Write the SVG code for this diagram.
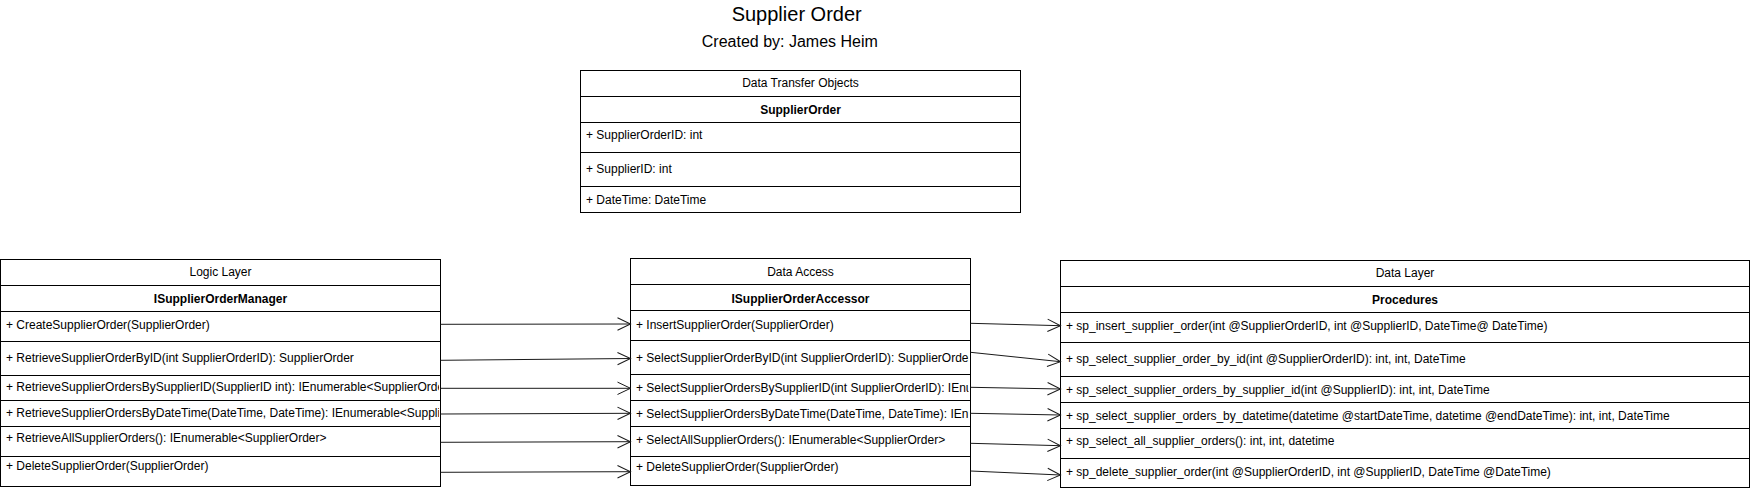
<svg xmlns="http://www.w3.org/2000/svg" width="1751" height="491" viewBox="0 0 1751 491">
<style>
  text { font-family: "Liberation Sans", Arial, Helvetica, sans-serif; fill: #000; }
  .title { font-size: 20px; text-anchor: middle; }
  .sub { font-size: 16px; text-anchor: middle; }
  .hdr { font-size: 12px; text-anchor: middle; }
  .bold { font-size: 12px; font-weight: bold; text-anchor: middle; }
  .row { font-size: 12px; }
  .box { fill: #fff; stroke: #000; stroke-width: 1; }
  .sep { stroke: #000; stroke-width: 1; fill: none; }
  .conn { stroke: #1a1a1a; stroke-width: 1; fill: none; marker-end: url(#open); }
</style>
<defs>
  <marker id="open" markerUnits="userSpaceOnUse" markerWidth="16" markerHeight="16" viewBox="0 0 16 16" refX="14.5" refY="8" orient="auto">
    <path d="M1.5,1.8 L14.5,8 L1.5,14.2" fill="none" stroke="#1a1a1a" stroke-width="1"/>
  </marker>
  <clipPath id="clipLogic"><rect x="0" y="255" width="439" height="236"/></clipPath>
  <clipPath id="clipAccess"><rect x="631" y="255" width="337.5" height="236"/></clipPath>
  <clipPath id="clipLayer"><rect x="1061" y="255" width="686" height="236"/></clipPath>
</defs>
<rect width="1751" height="491" fill="#fff"/>

<g id="title">
  <text class="title" x="796.7" y="21">Supplier Order</text>
  <text class="sub" x="789.8" y="47.3">Created by: James Heim</text>
</g>

<g id="dto">
  <rect class="box" x="580.5" y="70.5" width="440" height="142"/>
  <path class="sep" d="M580.5,96.5H1020.5M580.5,122.5H1020.5M580.5,152.5H1020.5M580.5,186.5H1020.5"/>
  <text class="hdr" x="800.5" y="87.3">Data Transfer Objects</text>
  <text class="bold" x="800.5" y="114">SupplierOrder</text>
  <text class="row" x="586" y="139.3">+ SupplierOrderID: int</text>
  <text class="row" x="586" y="173.3">+ SupplierID: int</text>
  <text class="row" x="586" y="204">+ DateTime: DateTime</text>
</g>

<g id="logic-layer">
  <rect class="box" x="0.5" y="259.5" width="440" height="227"/>
  <path class="sep" d="M0.5,285.5H440.5M0.5,311.5H440.5M0.5,341.5H440.5M0.5,375.5H440.5M0.5,400.5H440.5M0.5,426.5H440.5M0.5,456.5H440.5"/>
  <text class="hdr" x="220.5" y="275.7">Logic Layer</text>
  <text class="bold" x="220.5" y="303.3">ISupplierOrderManager</text>
  <g clip-path="url(#clipLogic)">
    <text class="row" x="6" y="329">+ CreateSupplierOrder(SupplierOrder)</text>
    <text class="row" x="6" y="361.7">+ RetrieveSupplierOrderByID(int SupplierOrderID): SupplierOrder</text>
    <text class="row" x="6" y="391">+ RetrieveSupplierOrdersBySupplierID(SupplierID int): IEnumerable&lt;SupplierOrder&gt;</text>
    <text class="row" x="6" y="417">+ RetrieveSupplierOrdersByDateTime(DateTime, DateTime): IEnumerable&lt;SupplierOrder&gt;</text>
    <text class="row" x="6" y="442.3">+ RetrieveAllSupplierOrders(): IEnumerable&lt;SupplierOrder&gt;</text>
    <text class="row" x="6" y="470">+ DeleteSupplierOrder(SupplierOrder)</text>
  </g>
</g>

<g id="data-access">
  <rect class="box" x="630.5" y="258.5" width="340" height="227"/>
  <path class="sep" d="M630.5,284.5H970.5M630.5,310.5H970.5M630.5,340.5H970.5M630.5,374.5H970.5M630.5,400.5H970.5M630.5,426.5H970.5M630.5,456.5H970.5"/>
  <text class="hdr" x="800.5" y="275.7">Data Access</text>
  <text class="bold" x="800.5" y="303.3">ISupplierOrderAccessor</text>
  <g clip-path="url(#clipAccess)">
    <text class="row" x="636" y="329">+ InsertSupplierOrder(SupplierOrder)</text>
    <text class="row" x="636" y="362.3">+ SelectSupplierOrderByID(int SupplierOrderID): SupplierOrder</text>
    <text class="row" x="636" y="391.7">+ SelectSupplierOrdersBySupplierID(int SupplierOrderID): IEnumerable&lt;SupplierOrder&gt;</text>
    <text class="row" x="636" y="417.7">+ SelectSupplierOrdersByDateTime(DateTime, DateTime): IEnumerable&lt;SupplierOrder&gt;</text>
    <text class="row" x="636" y="443.7">+ SelectAllSupplierOrders(): IEnumerable&lt;SupplierOrder&gt;</text>
    <text class="row" x="636" y="471">+ DeleteSupplierOrder(SupplierOrder)</text>
  </g>
</g>

<g id="data-layer">
  <rect class="box" x="1060.5" y="260.5" width="689" height="227"/>
  <path class="sep" d="M1060.5,286.5H1749.5M1060.5,312.5H1749.5M1060.5,342.5H1749.5M1060.5,376.5H1749.5M1060.5,402.5H1749.5M1060.5,428.5H1749.5M1060.5,458.5H1749.5"/>
  <text class="hdr" x="1405" y="276.7">Data Layer</text>
  <text class="bold" x="1405" y="304.3">Procedures</text>
  <g clip-path="url(#clipLayer)">
    <text class="row" x="1066" y="330">+ sp_insert_supplier_order(int @SupplierOrderID, int @SupplierID, DateTime@ DateTime)</text>
    <text class="row" x="1066" y="363.3">+ sp_select_supplier_order_by_id(int @SupplierOrderID): int, int, DateTime</text>
    <text class="row" x="1066" y="394">+ sp_select_supplier_orders_by_supplier_id(int @SupplierID): int, int, DateTime</text>
    <text class="row" x="1066" y="420">+ sp_select_supplier_orders_by_datetime(datetime @startDateTime, datetime @endDateTime): int, int, DateTime</text>
    <text class="row" x="1066" y="445">+ sp_select_all_supplier_orders(): int, int, datetime</text>
    <text class="row" x="1066" y="475.7">+ sp_delete_supplier_order(int @SupplierOrderID, int @SupplierID, DateTime @DateTime)</text>
  </g>
</g>

<g id="connectors">
  <path class="conn" d="M440.5,324.3L630.5,324"/>
  <path class="conn" d="M440.5,360.3L630.5,358.5"/>
  <path class="conn" d="M440.5,388.3L630.5,388.3"/>
  <path class="conn" d="M440.5,414L630.5,413.3"/>
  <path class="conn" d="M440.5,442.3L630.5,441.7"/>
  <path class="conn" d="M440.5,472.3L630.5,471.7"/>
  <path class="conn" d="M970.5,323.3L1060.5,325.7"/>
  <path class="conn" d="M970.5,352.3L1060.5,361.7"/>
  <path class="conn" d="M970.5,387.3L1060.5,389"/>
  <path class="conn" d="M970.5,413.3L1060.5,415"/>
  <path class="conn" d="M970.5,443.3L1060.5,445.7"/>
  <path class="conn" d="M970.5,471L1060.5,475"/>
</g>
</svg>
